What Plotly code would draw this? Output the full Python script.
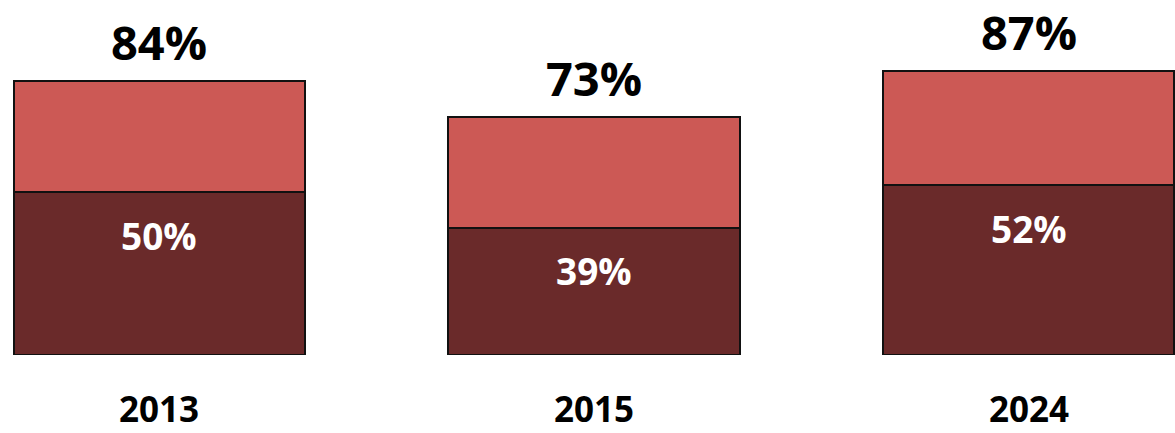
import plotly.graph_objects as go

years = ["2013", "2015", "2024"]
base_values = [50, 39, 52]
total_values = [84, 73, 87]
upper_values = [t - b for t, b in zip(total_values, base_values)]

x_pos = list(range(len(years)))

fig = go.Figure()
fig.add_trace(go.Bar(
    x=x_pos, y=base_values, width=0.67,
    marker=dict(color="#6A2A2A", line=dict(color="#111111", width=2)),
    hoverinfo="skip",
))
fig.add_trace(go.Bar(
    x=x_pos, y=upper_values, width=0.67,
    marker=dict(color="#CC5955", line=dict(color="#111111", width=2)),
    hoverinfo="skip",
))

for i in x_pos:
    fig.add_annotation(
        x=i, y=total_values[i], yanchor="middle", yshift=39,
        text=f"{total_values[i]}%", showarrow=False,
        font=dict(family="Open Sans", size=47, color="#000000", weight="bold"),
    )
    fig.add_annotation(
        x=i, y=base_values[i], yanchor="middle", yshift=-43,
        text=f"{base_values[i]}%", showarrow=False,
        font=dict(family="Open Sans", size=37, color="#FFFFFF", weight="bold"),
    )
    fig.add_annotation(
        x=i, y=0, yanchor="middle", yshift=-53,
        text=years[i], showarrow=False,
        font=dict(family="Open Sans", size=35, color="#000000", weight="bold"),
    )

fig.update_layout(
    width=1175, height=433,
    margin=dict(l=0, r=0, t=0, b=78),
    barmode="stack",
    showlegend=False,
    plot_bgcolor="white", paper_bgcolor="white",
    xaxis=dict(
        range=[-0.367, 2.337], showticklabels=False,
        showgrid=False, zeroline=False, showline=False, ticks="",
    ),
    yaxis=dict(range=[0, 108.9], visible=False, showgrid=False, zeroline=False),
)

fig.write_html(
    "out.html",
    config={"displayModeBar": False},
    post_script="document.body.style.margin='0px';document.body.style.overflow='hidden';",
)
